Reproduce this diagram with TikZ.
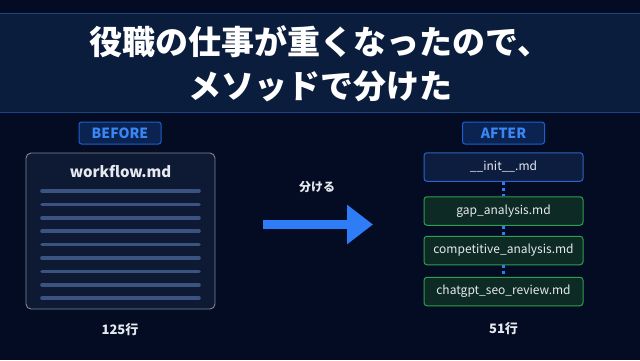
\documentclass[tikz,border=0pt]{standalone}
\usepackage{fontspec}
\setmainfont{Noto Sans CJK JP}
\usetikzlibrary{positioning, arrows.meta}

\definecolor{bgnavy}{HTML}{030C22}
\definecolor{bannernavy}{HTML}{0B1D3D}
\definecolor{bannerline}{HTML}{1B4585}
\definecolor{tagfill}{HTML}{0A2350}
\definecolor{tagblue}{HTML}{1D5FCF}
\definecolor{tagtext}{HTML}{3A86F5}
\definecolor{docfill}{HTML}{0E1A33}
\definecolor{docborder}{HTML}{7D879A}
\definecolor{docline}{HTML}{3A5380}
\definecolor{initfill}{HTML}{0D1D3F}
\definecolor{initborder}{HTML}{2C64C4}
\definecolor{partfill}{HTML}{0E2A24}
\definecolor{partborder}{HTML}{2F9E4F}
\definecolor{arrowblue}{HTML}{2E7CF6}
\definecolor{softwhite}{HTML}{E6E9EF}

\begin{document}
\begin{tikzpicture}[x=1pt, y=-1pt,
    tag/.style={draw=tagblue, fill=tagfill, line width=1pt, rounded corners=2.5pt,
      minimum width=82pt, minimum height=22pt, inner sep=0pt,
      text=tagtext, font=\bfseries\fontsize{14}{14}\selectfont},
    docbox/.style={draw=docborder, fill=docfill, line width=0.9pt, rounded corners=5pt,
      minimum width=189pt, minimum height=156pt, inner sep=0pt},
    filebox/.style={line width=1pt, rounded corners=3pt, minimum width=159pt,
      minimum height=28.5pt, inner sep=0pt, text=softwhite,
      font=\fontsize{12}{12}\selectfont},
    initbox/.style={filebox, draw=initborder, fill=initfill},
    partbox/.style={filebox, draw=partborder, fill=partfill},
    link/.style={draw=arrowblue, line width=2.2pt, dash pattern=on 3pt off 3pt},
    count/.style={text=softwhite, font=\bfseries\fontsize{13}{13}\selectfont}]

    % background and title banner
    \fill[bgnavy] (0,0) rectangle (640,360);
    \useasboundingbox (0,0) rectangle (640,360);
    \fill[bannernavy] (0,13) rectangle (640,113);
    \draw[bannerline, line width=1.5pt] (0,13.5) -- (640,13.5);
    \draw[bannerline, line width=1.5pt] (0,112.5) -- (640,112.5);
    \node[align=center, text=white, font=\bfseries\fontsize{33}{44}\selectfont] (title) at (320,64)
      {役職の仕事が重くなったので、\\メソッドで分けた};

    % before
    \node[tag] (before) at (120,133) {BEFORE};
    \node[docbox] (doc) at (120.5,231) {};
    \node[text=softwhite, font=\bfseries\fontsize{15}{15}\selectfont] (docname) at (120.5,172) {workflow.md};
    \foreach \i in {0,...,8}
      \draw[docline, line width=3.6pt, line cap=round] (42,191+13.4*\i) -- (199,191+13.4*\i);
    \node[count] (before-lines) at (120,330) {125行};

    % split arrow
    \node[text=softwhite, font=\bfseries\fontsize{12}{12}\selectfont] (split) at (317,187) {分ける};
    \coordinate (split-from) at (263,224.5);
    \coordinate (split-to) at (373,224.5);
    \draw[arrowblue, line width=9pt, -{Triangle[length=26pt, width=38pt]}] (split-from) -- (split-to);

    % after
    \node[tag] (after) at (503.5,133) {AFTER};
    \node[initbox] (init) at (503.5,167) {\_\_init\_\_.md};
    \node[partbox] (gap) at (503.5,211) {gap\_analysis.md};
    \node[partbox] (comp) at (503.5,250.5) {competitive\_analysis.md};
    \node[partbox] (seo) at (503.5,291.5) {chatgpt\_seo\_review.md};
    \draw[link] (init) -- (gap);
    \draw[link] (gap) -- (comp);
    \draw[link] (comp) -- (seo);
    \node[count] (after-lines) at (503.5,329) {51行};
  \end{tikzpicture}
\end{document}
